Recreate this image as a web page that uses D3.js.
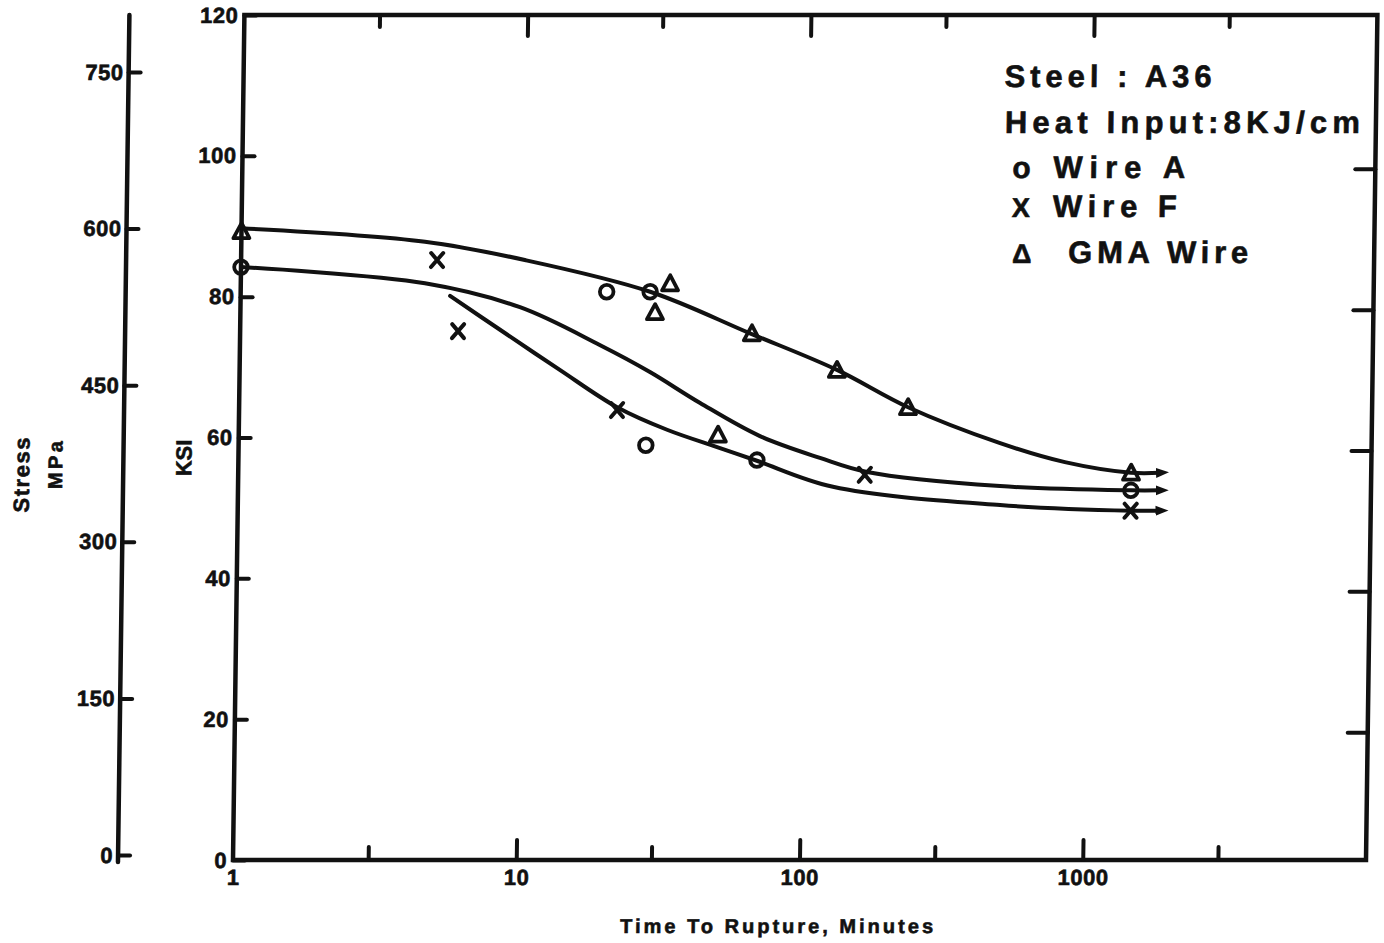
<!DOCTYPE html>
<html>
<head>
<meta charset="utf-8">
<script src="https://cdn.jsdelivr.net/npm/d3@7"></script>
<style>
  html, body { margin: 0; padding: 0; background: #fff; }
  svg { display: block; }
  text { font-family: "Liberation Sans", Arial, Helvetica, sans-serif; font-weight: bold; fill: #111; stroke: #111; stroke-width: 0.6px; }
</style>
</head>
<body>
<svg id="chart" width="1384" height="943"></svg>
<script>
// Stress-rupture results, A36 steel welds, heat input 8 KJ/cm
// time to rupture in minutes, stress in ksi

const wireATime = [1, 19.6, 27.9, 27.4, 67.7, 1420];
const wireAKsi  = [84.2, 80.7, 80.7, 58.9, 56.8, 52.5];

const wireFTime = [4.92, 5.88, 21.6, 163, 1420];
const wireFKsi  = [85.2, 75.1, 63.9, 54.7, 49.6];

const gmaTime = [1, 32.8, 29.1, 64.1, 128.5, 230, 49.2, 1420];
const gmaKsi  = [89.3, 81.9, 77.8, 74.8, 69.6, 64.3, 60.4, 55.0];

// hand-drawn trend curves
const upperTime = [1, 4.45, 10.05, 27.9, 63.1, 128.5, 230, 488, 828, 1419, 1796];
const upperKsi  = [89.7, 87.8, 85.2, 80.7, 74.8, 69.6, 64.3, 59.2, 56.5, 55.0, 55.0];

const middleTime = [1, 4.47, 9.7, 18.7, 28.1, 42.4, 69.2, 113, 166, 490, 1420, 1796];
const middleKsi  = [84.2, 81.9, 78.5, 73.1, 69.3, 64.9, 60.2, 57.1, 55.1, 53.1, 52.5, 52.5];

const lowerTime = [5.49, 8.27, 13.5, 21.6, 32.5, 50.1, 67.7, 126, 491, 1425, 1796];
const lowerKsi  = [80.1, 75.3, 69.6, 64.3, 61.1, 58.5, 56.7, 53.0, 50.4, 49.6, 49.6];

// axis ticks
const ksiTicks = [0, 20, 40, 60, 80, 100, 120];
const mpaTicks = [0, 150, 300, 450, 600, 750];
const timeDecades = [1, 10, 100, 1000];
const timeTicks = [1, 3, 10, 30, 100, 300, 1000, 3000];
const rightTicks = [20, 40, 60, 80, 100];

const legendTitle = ["Steel : A36", "Heat Input:8KJ/cm"];
const legendSeries = ["Wire A", "Wire F", "GMA Wire"];
const legendSymbols = ["o", "X", "\u0394"];

const ink = "#111";
const svg = d3.select("#chart");

// the sheet leans slightly to the right towards its top edge
const lean = 0.0135;
const g = svg.append("g")
  .attr("transform", `translate(${860 * lean},0) skewX(${-Math.atan(lean) * 180 / Math.PI})`);

const x = d3.scaleLog().domain([1, 10000]).range([233, 1366]);
const y = d3.scaleLinear().domain([0, 120]).range([860, 15]);
const yMpa = d3.scaleLinear().domain([0, 750]).range([855, 72]);
const yRight = d3.scaleLinear().domain([0, 120]).range([873, 28]);

function styleAxis(sel, size) {
  sel.select(".domain").remove();
  sel.attr("font-size", size).attr("font-family", null);
  sel.selectAll(".tick line").attr("stroke", ink).attr("stroke-width", 4).attr("stroke-linecap", "round");
  sel.selectAll(".tick text").attr("letter-spacing", 0.5);
}

// frame
g.append("path")
  .attr("d", `M${x(1)},${y(120)}H${x(10000)}V${y(0)}H${x(1)}Z`)
  .attr("fill", "none").attr("stroke", ink).attr("stroke-width", 4.5);

// ksi axis
g.append("g").attr("transform", `translate(${x(1)},0)`)
  .call(d3.axisLeft(y).tickValues(ksiTicks).tickSize(-12).tickPadding(6).tickFormat(d3.format("d")))
  .call(a => styleAxis(a, 22));

// MPa axis
const mpaX = 118;
g.append("line").attr("x1", mpaX).attr("x2", mpaX).attr("y1", y(120)).attr("y2", 862)
  .attr("stroke", ink).attr("stroke-width", 4.5).attr("stroke-linecap", "round");
g.append("g").attr("transform", `translate(${mpaX},0)`)
  .call(d3.axisLeft(yMpa).tickValues(mpaTicks).tickSize(-12).tickPadding(5).tickFormat(d3.format("d")))
  .call(a => styleAxis(a, 22));

// bottom time axis
g.append("g").attr("transform", `translate(0,${y(0)})`)
  .call(d3.axisBottom(x).tickValues(timeTicks).tickSize(0).tickPadding(9)
    .tickFormat(d => timeDecades.includes(d) ? d3.format("d")(d) : ""))
  .call(a => {
    styleAxis(a, 22);
    a.selectAll(".tick line").attr("y2", d => timeDecades.includes(d) ? -20 : -13);
    a.selectAll(".tick").filter(d => d === 1).select("line").remove();
  });

// top edge ticks
g.append("g").attr("transform", `translate(0,${y(120)})`)
  .call(d3.axisTop(x).tickValues(timeTicks.filter(d => d > 1)).tickSize(0).tickFormat(""))
  .call(a => {
    styleAxis(a, 22);
    a.selectAll(".tick line").attr("y2", d => timeDecades.includes(d) ? 21 : 12);
  });

// right edge ticks
g.append("g").attr("transform", `translate(${x(10000)},0)`)
  .call(d3.axisRight(yRight).tickValues(rightTicks).tickSize(-20).tickFormat(""))
  .call(a => styleAxis(a, 22));

// arrowhead for the curve ends
svg.append("defs").append("marker")
  .attr("id", "arrow").attr("markerUnits", "userSpaceOnUse")
  .attr("markerWidth", 14).attr("markerHeight", 12)
  .attr("viewBox", "0 -6 14 12").attr("refX", 4).attr("refY", 0).attr("orient", "auto")
  .append("path").attr("d", "M0,-5L13,0L0,5Z").attr("fill", ink);

const line = d3.line().x(d => x(d[0])).y(d => y(d[1])).curve(d3.curveCatmullRom.alpha(0.5));
[[upperTime, upperKsi], [middleTime, middleKsi], [lowerTime, lowerKsi]].forEach(([t, k]) => {
  g.append("path")
    .datum(d3.zip(t, k))
    .attr("d", line)
    .attr("fill", "none").attr("stroke", ink).attr("stroke-width", 4)
    .attr("stroke-linecap", "round")
    .attr("marker-end", "url(#arrow)");
});

// Wire A: circles
g.append("g").selectAll("circle")
  .data(d3.zip(wireATime, wireAKsi)).join("circle")
  .attr("cx", d => x(d[0])).attr("cy", d => y(d[1])).attr("r", 6.8)
  .attr("fill", "none").attr("stroke", ink).attr("stroke-width", 3.8);

// Wire F: crosses
g.append("g").selectAll("path")
  .data(d3.zip(wireFTime, wireFKsi)).join("path")
  .attr("transform", d => `translate(${x(d[0])},${y(d[1])})`)
  .attr("d", "M-6,-7L6,7M6,-7L-6,7")
  .attr("fill", "none").attr("stroke", ink).attr("stroke-width", 4).attr("stroke-linecap", "round");

// GMA wire: triangles
g.append("g").selectAll("path")
  .data(d3.zip(gmaTime, gmaKsi)).join("path")
  .attr("transform", d => `translate(${x(d[0])},${y(d[1])})`)
  .attr("d", "M0,-8L8,7L-8,7Z")
  .attr("fill", "none").attr("stroke", ink).attr("stroke-width", 3.8).attr("stroke-linejoin", "round");

// legend block
const lg = g.append("g").attr("font-size", 31);
lg.append("text").attr("x", 994).attr("y", 87).attr("textLength", 207).attr("lengthAdjust", "spacing").text(legendTitle[0]);
lg.append("text").attr("x", 995).attr("y", 133).attr("textLength", 355).attr("lengthAdjust", "spacing").text(legendTitle[1]);
const rows = [
  { sx: 1003, tx: 1044, y: 178, w: 132, fs: 30 },
  { sx: 1003, tx: 1044, y: 217, w: 124, fs: 27 },
  { sx: 1004, tx: 1060, y: 263, w: 180, fs: 27 }
];
rows.forEach((r, i) => {
  lg.append("text").attr("x", r.sx).attr("y", r.y).attr("font-size", r.fs).text(legendSymbols[i]);
  lg.append("text").attr("x", r.tx).attr("y", r.y).attr("textLength", r.w).attr("lengthAdjust", "spacing").text(legendSeries[i]);
});

// axis titles
g.append("text").attr("transform", "translate(24,475) rotate(-90)")
  .attr("text-anchor", "middle").attr("font-size", 22)
  .attr("textLength", 75).attr("lengthAdjust", "spacing").text("Stress");
g.append("text").attr("transform", "translate(57,465) rotate(-90)")
  .attr("text-anchor", "middle").attr("font-size", 20)
  .attr("textLength", 48).attr("lengthAdjust", "spacing").text("MPa");
g.append("text").attr("transform", "translate(186,458) rotate(-90)")
  .attr("text-anchor", "middle").attr("font-size", 22).text("KSI");
g.append("text").attr("x", 621).attr("y", 933).attr("font-size", 20)
  .attr("textLength", 313).attr("lengthAdjust", "spacing").text("Time To Rupture,  Minutes");
</script>
</body>
</html>
